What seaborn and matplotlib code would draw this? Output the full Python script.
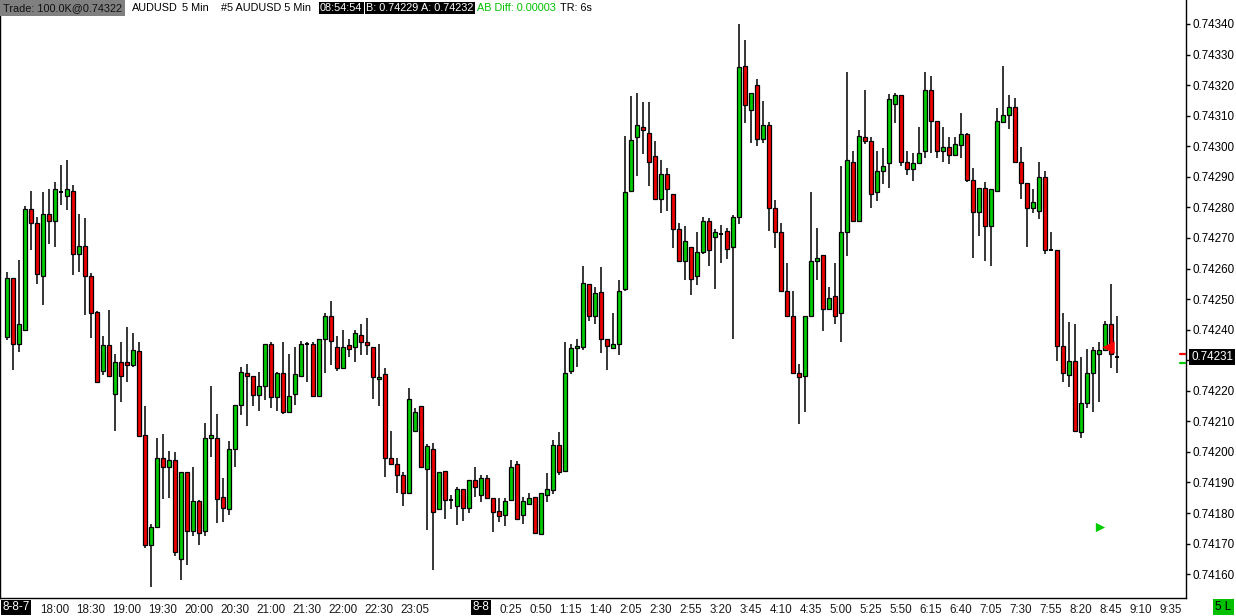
import numpy as np
import seaborn as sns
import matplotlib
matplotlib.use("Agg")
import matplotlib.pyplot as plt
import matplotlib.transforms as mtransforms

# =========================
# DATA - AUDUSD 5 min bars (17:20 on 8-8-7 to 8:50 on 8-8)
# =========================
opens = [
    0.742377, 0.742568, 0.742352, 0.742398, 0.742794, 0.742748, 0.742577, 0.742777, 0.742755, 0.742850,
    0.742836, 0.742853, 0.742647, 0.742673, 0.742577, 0.742457, 0.742264, 0.742349, 0.742188, 0.742293,
    0.742293, 0.742283, 0.742329, 0.742054, 0.741696, 0.741753, 0.741979, 0.741951, 0.741972, 0.741651,
    0.741933, 0.741742, 0.741838, 0.741742, 0.742047, 0.742044, 0.741853, 0.741812, 0.742011, 0.742152,
    0.742257, 0.742247, 0.742187, 0.742214, 0.742352, 0.742178, 0.742257, 0.742129, 0.742191, 0.742247,
    0.742352, 0.742352, 0.742182, 0.742371, 0.742443, 0.742342, 0.742275, 0.742349, 0.742342, 0.742381,
    0.742358, 0.742342, 0.742237, 0.742254, 0.741979, 0.741962, 0.741923, 0.741864, 0.742067, 0.742149,
    0.741943, 0.742011, 0.741812, 0.741939, 0.741844, 0.741822, 0.741877, 0.741818, 0.741907, 0.741858,
    0.741913, 0.741848, 0.741808, 0.741792, 0.741844, 0.741959, 0.741792, 0.741831, 0.741854, 0.741733,
    0.741858, 0.741874, 0.742024, 0.741939, 0.742265, 0.742339, 0.742342, 0.742548, 0.742443, 0.742522,
    0.742368, 0.742339, 0.742352, 0.742532, 0.742852, 0.743029, 0.743062, 0.743042, 0.742967, 0.742826,
    0.742908, 0.742843, 0.742728, 0.742623, 0.742669, 0.742574, 0.742653, 0.742754, 0.742702, 0.742712,
    0.742722, 0.742669, 0.742767, 0.743261, 0.743117, 0.743202, 0.743023, 0.743068, 0.742797, 0.742718,
    0.742528, 0.742446, 0.742257, 0.742247, 0.742446, 0.742626, 0.742643, 0.742466, 0.742509, 0.742453,
    0.742718, 0.742947, 0.742754, 0.743029, 0.743016, 0.742849, 0.742918, 0.742944, 0.743137, 0.743167,
    0.742947, 0.742927, 0.742944, 0.742983, 0.743183, 0.743081, 0.742986, 0.742996, 0.742973, 0.743003,
    0.743039, 0.742888, 0.742784, 0.742862, 0.742738, 0.742852, 0.743078, 0.743101, 0.743127, 0.742947,
    0.742879, 0.742797, 0.742787, 0.742901, 0.742662, 0.742662, 0.742348, 0.742253, 0.742299, 0.742064,
    0.742159, 0.742257, 0.742319, 0.742332, 0.742417, 0.742312,
]
highs = [
    0.742588, 0.742568, 0.742628, 0.742805, 0.742854, 0.742768, 0.742849, 0.742859, 0.742882, 0.742939,
    0.742955, 0.742872, 0.742777, 0.742764, 0.742584, 0.742462, 0.742378, 0.742463, 0.742320, 0.742359,
    0.742408, 0.742389, 0.742359, 0.742150, 0.741764, 0.742045, 0.742058, 0.742003, 0.742000, 0.741933,
    0.741933, 0.741951, 0.741844, 0.742094, 0.742216, 0.742124, 0.741916, 0.742035, 0.742152, 0.742278,
    0.742286, 0.742247, 0.742263, 0.742352, 0.742358, 0.742263, 0.742358, 0.742319, 0.742343, 0.742363,
    0.742361, 0.742359, 0.742371, 0.742454, 0.742494, 0.742379, 0.742399, 0.742368, 0.742399, 0.742418,
    0.742438, 0.742342, 0.742353, 0.742273, 0.742068, 0.741979, 0.741933, 0.742209, 0.742142, 0.742149,
    0.742025, 0.742028, 0.741933, 0.741939, 0.741858, 0.741884, 0.741877, 0.741907, 0.741949, 0.741923,
    0.741923, 0.741848, 0.741848, 0.741848, 0.741974, 0.741969, 0.741854, 0.741864, 0.741854, 0.741864,
    0.741931, 0.742038, 0.742064, 0.742358, 0.742352, 0.742368, 0.742607, 0.742548, 0.742541, 0.742604,
    0.742368, 0.742453, 0.742561, 0.743032, 0.743163, 0.743173, 0.743144, 0.743144, 0.743016, 0.742954,
    0.742928, 0.742843, 0.742748, 0.742738, 0.742672, 0.742718, 0.742767, 0.742764, 0.742728, 0.742741,
    0.742731, 0.742774, 0.743399, 0.743346, 0.743173, 0.743219, 0.743147, 0.743078, 0.742823, 0.742748,
    0.742617, 0.742528, 0.742286, 0.742446, 0.742849, 0.742731, 0.742643, 0.742538, 0.742617, 0.742934,
    0.743242, 0.742986, 0.743052, 0.743183, 0.743029, 0.742983, 0.742993, 0.743170, 0.743173, 0.743167,
    0.742983, 0.742977, 0.743062, 0.743242, 0.743229, 0.743081, 0.743062, 0.743029, 0.743029, 0.743108,
    0.743042, 0.742928, 0.742862, 0.742882, 0.742859, 0.743124, 0.743263, 0.743167, 0.743157, 0.742996,
    0.742879, 0.742859, 0.742947, 0.742918, 0.742721, 0.742662, 0.742456, 0.742424, 0.742417, 0.742312,
    0.742338, 0.742342, 0.742358, 0.742427, 0.742548, 0.742446,
]
lows = [
    0.742365, 0.742268, 0.742326, 0.742398, 0.742659, 0.742550, 0.742481, 0.742680, 0.742672, 0.742808,
    0.742790, 0.742580, 0.742590, 0.742449, 0.742374, 0.742228, 0.742250, 0.742247, 0.742070, 0.742164,
    0.742230, 0.742277, 0.742050, 0.741687, 0.741559, 0.741753, 0.741846, 0.741850, 0.741660, 0.741581,
    0.741631, 0.741726, 0.741696, 0.741726, 0.741982, 0.741766, 0.741771, 0.741794, 0.741951, 0.742122,
    0.742086, 0.742151, 0.742135, 0.742171, 0.742144, 0.742135, 0.742125, 0.742126, 0.742154, 0.742247,
    0.742230, 0.742182, 0.742182, 0.742259, 0.742285, 0.742266, 0.742275, 0.742311, 0.742295, 0.742316,
    0.742316, 0.742172, 0.742151, 0.741919, 0.741962, 0.741867, 0.741824, 0.741861, 0.742067, 0.741949,
    0.741746, 0.741614, 0.741812, 0.741781, 0.741812, 0.741762, 0.741775, 0.741801, 0.741851, 0.741835,
    0.741848, 0.741739, 0.741772, 0.741756, 0.741841, 0.741776, 0.741763, 0.741825, 0.741736, 0.741730,
    0.741835, 0.741861, 0.741926, 0.741936, 0.742255, 0.742278, 0.742335, 0.742427, 0.742420, 0.742325,
    0.742269, 0.742339, 0.742316, 0.742525, 0.742852, 0.742904, 0.742976, 0.742871, 0.742826, 0.742780,
    0.742787, 0.742666, 0.742620, 0.742561, 0.742512, 0.742545, 0.742649, 0.742607, 0.742532, 0.742617,
    0.742630, 0.742371, 0.742744, 0.743075, 0.743010, 0.743000, 0.743010, 0.742722, 0.742666, 0.742522,
    0.742446, 0.742257, 0.742090, 0.742132, 0.742446, 0.742564, 0.742397, 0.742466, 0.742417, 0.742361,
    0.742640, 0.742754, 0.742751, 0.743006, 0.742797, 0.742820, 0.742875, 0.742862, 0.743075, 0.742934,
    0.742905, 0.742885, 0.742944, 0.742960, 0.742977, 0.742960, 0.742950, 0.742941, 0.742970, 0.742960,
    0.742882, 0.742636, 0.742705, 0.742626, 0.742607, 0.742852, 0.743078, 0.743055, 0.742947, 0.742829,
    0.742672, 0.742780, 0.742761, 0.742646, 0.742656, 0.742296, 0.742230, 0.742211, 0.742067, 0.742047,
    0.742142, 0.742132, 0.742162, 0.742332, 0.742276, 0.742257,
]
closes = [
    0.742568, 0.742352, 0.742419, 0.742794, 0.742748, 0.742583, 0.742777, 0.742755, 0.742859, 0.742850,
    0.742859, 0.742647, 0.742673, 0.742577, 0.742453, 0.742228, 0.742349, 0.742247, 0.742293, 0.742247,
    0.742283, 0.742332, 0.742053, 0.741696, 0.741753, 0.741979, 0.741951, 0.741972, 0.741673, 0.741933,
    0.741742, 0.741838, 0.741736, 0.742047, 0.742054, 0.741847, 0.741818, 0.742011, 0.742152, 0.742263,
    0.742247, 0.742187, 0.742214, 0.742352, 0.742178, 0.742257, 0.742129, 0.742182, 0.742254, 0.742352,
    0.742352, 0.742182, 0.742371, 0.742443, 0.742362, 0.742275, 0.742342, 0.742338, 0.742388, 0.742358,
    0.742349, 0.742244, 0.742244, 0.741979, 0.741962, 0.741923, 0.741867, 0.742172, 0.742132, 0.741949,
    0.742018, 0.741802, 0.741933, 0.741844, 0.741844, 0.741877, 0.741818, 0.741907, 0.741884, 0.741913,
    0.741848, 0.741802, 0.741789, 0.741838, 0.741952, 0.741782, 0.741838, 0.741848, 0.741736, 0.741864,
    0.741877, 0.742024, 0.741933, 0.742257, 0.742339, 0.742348, 0.742551, 0.742443, 0.742519, 0.742368,
    0.742348, 0.742352, 0.742528, 0.742849, 0.743022, 0.743068, 0.743052, 0.742947, 0.742826, 0.742908,
    0.742859, 0.742728, 0.742626, 0.742689, 0.742567, 0.742653, 0.742754, 0.742659, 0.742718, 0.742712,
    0.742663, 0.742767, 0.743258, 0.743134, 0.743173, 0.743023, 0.743071, 0.742797, 0.742718, 0.742528,
    0.742446, 0.742257, 0.742244, 0.742446, 0.742626, 0.742636, 0.742466, 0.742502, 0.742443, 0.742718,
    0.742954, 0.742754, 0.743032, 0.743016, 0.742843, 0.742918, 0.742937, 0.743153, 0.743167, 0.742947,
    0.742927, 0.742944, 0.742977, 0.743183, 0.743081, 0.742986, 0.742996, 0.742973, 0.743006, 0.743039,
    0.742888, 0.742784, 0.742862, 0.742738, 0.742859, 0.743081, 0.743101, 0.743127, 0.742947, 0.742879,
    0.742797, 0.742816, 0.742901, 0.742662, 0.742662, 0.742348, 0.742257, 0.742299, 0.742067, 0.742159,
    0.742257, 0.742332, 0.742332, 0.742417, 0.742319, 0.742312,
]

# bottom axis (bar index of each label)
date_labels = ["8-8-7", "8-8"]
date_bars = [0, 79]
time_labels = ["18:00", "18:30", "19:00", "19:30", "20:00", "20:30", "21:00", "21:30", "22:00",
               "22:30", "23:05", "0:25", "0:50", "1:15", "1:40", "2:05", "2:30", "2:55", "3:20",
               "3:45", "4:10", "4:35", "5:00", "5:25", "5:50", "6:15", "6:40", "7:05", "7:30",
               "7:55", "8:20", "8:45", "9:10", "9:35"]
time_bars = [8, 14, 20, 26, 32, 38, 44, 50, 56, 62, 68] + list(range(84, 195, 5))

price_ticks = np.round(np.arange(0.74160, 0.743401, 0.0001), 5)
last_price = 0.74231
bid, ask = 0.74229, 0.74232
trade_bar, trade_price = 183.6, 0.742342
signal_bar, signal_price = 182.2, 0.741754

GREEN = "#00cc00"
RED = "#ee0000"

# =========================
# FIGURE
# =========================
sns.set_style("white")
plt.rcParams["font.family"] = ["Liberation Sans", "DejaVu Sans"]

W, H = 1236, 616
fig = plt.figure(figsize=(W / 100, H / 100), dpi=100)
ax = fig.add_axes([0, 1 - 598 / H, 1186 / W, 598 / H])

o = np.array(opens)
h = np.array(highs)
l = np.array(lows)
c = np.array(closes)
x = np.arange(len(o))
up = c > o
down = c < o
flat = c == o

# wicks
ax.vlines(x, l, h, color="black", linewidth=1.1, zorder=1)
# bodies
ax.bar(x[up], (c - o)[up], bottom=o[up], width=0.72, color=GREEN,
       edgecolor="black", linewidth=0.9, zorder=2)
ax.bar(x[down], (o - c)[down], bottom=c[down], width=0.72, color=RED,
       edgecolor="black", linewidth=0.9, zorder=2)
ax.hlines(o[flat], x[flat] - 0.36, x[flat] + 0.36, color="black", linewidth=1.4, zorder=2)

# markers
ax.scatter([trade_bar], [trade_price], marker="<", s=80, color="#ff0000", linewidths=0, zorder=4)
ax.scatter([signal_bar], [signal_price], marker=">", s=45, color="#00cc00", linewidths=0, zorder=4)

ax.set_xlim(-1.12, 196.55)
ax.set_ylim(0.741522, 0.7434785)

sns.despine(ax=ax, top=True, right=False, left=False, bottom=False)
for s in ["left", "right", "bottom"]:
    ax.spines[s].set_color("black")
    ax.spines[s].set_linewidth(1.0)

# right price axis (the 0.74230 label sits under the last-price box)
ax.yaxis.tick_right()
ax.set_yticks(price_ticks)
ax.set_yticklabels(["" if abs(v - 0.7423) < 1e-7 else f"{v:.5f}" for v in price_ticks])
ax.tick_params(axis="y", direction="out", length=3, width=1, pad=1.5, labelsize=8.4,
               colors="black")

# bottom time axis
ax.set_xticks(time_bars)
ax.set_xticklabels(time_labels)
ax.tick_params(axis="x", direction="out", length=3, width=1, pad=1.5, labelsize=8.4,
               colors="black", labelcolor="#1a1a1a")

tx = mtransforms.blended_transform_factory(ax.transData, ax.transAxes)
for lab, b in zip(date_labels, date_bars):
    if b == 0:
        ax.text(0.002, -0.0155, lab, transform=ax.transAxes, ha="left", va="center",
                fontsize=8.4, color="white", clip_on=False,
                bbox=dict(boxstyle="square,pad=0.15", fc="black", ec="none"))
    else:
        ax.text(b, -0.0155, lab, transform=tx, ha="center", va="center", fontsize=8.4,
                color="white", clip_on=False,
                bbox=dict(boxstyle="square,pad=0.15", fc="black", ec="none"))

# last price box + bid/ask dashes
ty = mtransforms.blended_transform_factory(ax.transAxes, ax.transData)
ax.text(1 + 5 / 1186, last_price, f"{last_price:.5f}", transform=ty, ha="left", va="center",
        fontsize=8.4, color="white", clip_on=False, zorder=5,
        bbox=dict(boxstyle="square,pad=0.15", fc="black", ec="none"))
ax.plot([1 - 6 / 1186, 1 - 1 / 1186], [ask, ask], transform=ty, color="#ff0000",
        linewidth=1.6, clip_on=False)
ax.plot([1 - 6 / 1186, 1 - 1 / 1186], [bid, bid], transform=ty, color="#00cc00",
        linewidth=1.6, clip_on=False)

# =========================
# HEADER
# =========================
hy = 1 - 8 / H
fs = 7.8
fig.text(3 / W, hy, "Trade: 100.0K@0.74322", ha="left", va="center", fontsize=fs,
         color="#111111", bbox=dict(boxstyle="square,pad=0.3", fc="#808080", ec="none"))
fig.text(132 / W, hy, "AUDUSD", ha="left", va="center", fontsize=fs, color="black")
fig.text(182 / W, hy, "5 Min", ha="left", va="center", fontsize=fs, color="black")
fig.text(221 / W, hy, "#5 AUDUSD 5 Min", ha="left", va="center", fontsize=fs, color="black")
for xp, txt in [(320, "08:54:54"), (366, "B: 0.74229"), (421, "A: 0.74232")]:
    fig.text(xp / W, hy, txt, ha="left", va="center", fontsize=fs, color="white",
             bbox=dict(boxstyle="square,pad=0.12", fc="black", ec="none"))
fig.text(477 / W, hy, "AB Diff: 0.00003", ha="left", va="center", fontsize=fs, color="#00c000")
fig.text(560 / W, hy, "TR: 6s", ha="left", va="center", fontsize=fs, color="black")

fig.text(1215 / W, 1 - 607 / H, "5 L", ha="left", va="center", fontsize=8.4, color="black",
         bbox=dict(boxstyle="square,pad=0.2", fc="#00c000", ec="none"))

fig.savefig("out.png", dpi=100, facecolor="white")
